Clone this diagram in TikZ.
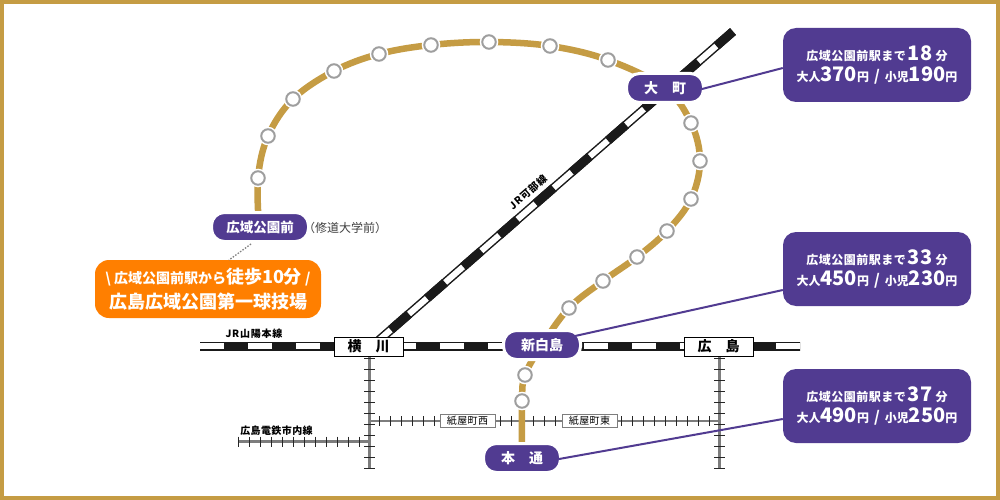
\documentclass[tikz,border=0pt]{standalone}
\usepackage{fontspec}
\setmainfont{Noto Sans CJK JP}
\newfontfamily\jpwide[LetterSpace=8]{Noto Sans CJK JP}
\newfontfamily\jpsp[LetterSpace=4]{Noto Sans CJK JP}
\definecolor{purp}{HTML}{513B91}
\definecolor{gold}{HTML}{C59C44}
\definecolor{orng}{HTML}{FF7F00}
\definecolor{railk}{HTML}{1A1A1A}
\definecolor{tram}{HTML}{7D7D7D}
\newcommand{\fs}[1]{\fontsize{#1}{#1}\selectfont}
\newcommand{\dk}[1]{{\fs{20}\bfseries #1}}
\newcommand{\infotext}[4]{{\bfseries\jpsp\fs{12}#1\,\fs{20}\normalfont\bfseries #2\,\jpsp\fs{12}\bfseries 分}\\[4pt]{\bfseries\fs{12}大人\dk{#3}円\hspace{5pt}{\fs{15}/}\hspace{5pt}小児\dk{#4}円}}
\tikzset{
  x=1pt,y=-1pt,
  railbase/.style={draw=railk,line width=9pt},
  railwhite/.style={draw=white,line width=6pt},
  raildash/.style={draw=railk,line width=9pt,dash pattern=on 24pt off 24pt},
  goldline/.style={draw=gold,line width=6.5pt},
  stationdot/.style={circle,draw=black!38,fill=white,line width=2pt,minimum size=13.5pt,inner sep=0pt,preaction={draw=white,line width=5pt}},
  pill/.style={rectangle,rounded corners=12.9pt,fill=purp,draw=white,line width=3pt,text=white,font=\bfseries\fs{14},inner sep=0pt,minimum height=29pt},
  stationbox/.style={rectangle,draw=black,fill=white,line width=1pt,font=\bfseries\fs{14},inner sep=0pt,minimum width=69pt,minimum height=19pt},
  tramline/.style={draw=tram,line width=2.6pt},
  tick/.style={draw=black!85,line width=1pt},
  tramlabel/.style={rectangle,draw=tram,fill=white,line width=1pt,font=\jpsp\fs{10},inner sep=0pt,minimum width=55pt,minimum height=13pt},
  railtext/.style={font=\jpwide\bfseries\fs{10},inner sep=0pt},
  infobox/.style={rectangle,fill=purp,rounded corners=13pt,text=white,align=center,minimum width=188pt,minimum height=74pt,inner sep=0pt},
  link/.style={draw=purp,line width=2pt},
}
\begin{document}
\begin{tikzpicture}
\useasboundingbox (0,0) rectangle (1000,500);
\fill[white] (0,0) rectangle (1000,500);
\draw[gold,line width=4pt] (2,2) rectangle (998,498);

% named stations (positions)
\foreach \n/\p in {a/{258,178},b/{268,136},c/{293,99},d/{334,71},e/{379,54},f/{431,45},g/{489,42},h/{550,46},i/{608,60},
  j/{691,123},k/{700,161},l/{691,199},m/{667,231},n/{637,257},o/{603,281},p/{569,308},q/{525,375},r/{522,401}}
  {\coordinate (c\n) at (\p);}
\coordinate (cstart) at (259,227);
\coordinate (comachi) at (665,88);
\coordinate (cshin) at (542,345);
\coordinate (chon) at (522,458);
\coordinate (jrw) at (200,346);
\coordinate (jre) at (800,346);
\coordinate (kbt) at (733,31.5);
\coordinate (kbb) at (378,341);
\coordinate (tramwe) at (238.3,441.7);
\coordinate (tramvl) at (369.3,469);
\coordinate (tramvr) at (719.3,469);
\coordinate (tramjl) at (369.3,441.7);
\coordinate (tramhl) at (369.3,421);
\coordinate (tramhr) at (719.3,421);

% tram lines
\draw[tramline] (tramwe) -- (tramjl);
\draw[tramline] (tramhl) -- (tramhr);
\draw[tramline] (369.3,356) -- (tramvl);
\draw[tramline] (719.3,356) -- (tramvr);
\foreach \y in {358.3,369.3,...,470}{
  \draw[tick] (364,\y) -- (374.5,\y);
  \draw[tick] (714,\y) -- (724.5,\y);
}
\foreach \x in {238.3,249.3,...,360}{\draw[tick] (\x,436.5) -- (\x,447);}
\foreach \x in {379,390,...,436,500,511,...,556,621.7,632.7,...,711}{\draw[tick] (\x,416) -- (\x,426);}
\node[tramlabel] (kamiW) at (467.5,420.5) {紙屋町西};
\node[tramlabel] (kamiE) at (589.5,420.5) {紙屋町東};
\node[font=\jpsp\bfseries\fs{10},inner sep=0pt] (dentetsu) at (276.5,430.7) {広島電鉄市内線};

% JR lines
\draw[railbase] (jrw) -- (jre);
\draw[railwhite] (jrw) -- (jre);
\draw[raildash,dash phase=0pt] (224,346) -- (jre);
\draw[railbase] (kbb) -- (kbt);
\draw[railwhite] (kbb) -- (kbt);
\draw[raildash,dash phase=2pt] (kbt) -- (kbb);
\node[railtext] (sanyo) at (254,334) {JR山陽本線};
\node[railtext,rotate=41] (kabe) at (528,192) {JR可部線};

% gold line
\draw[goldline,line cap=butt] plot[smooth,tension=0.6] coordinates {(cstart)(ca)(cb)(cc)(cd)(ce)(cf)(cg)(ch)(ci)(comachi)(cj)(ck)(cl)(cm)(cn)(co)(cp)(cshin)(cq)(cr)(chon)};
\foreach \n in {a,...,r}{\node[stationdot] (s\n) at (c\n) {};}

% stations
\node[stationbox] (yokogawa) at (368.5,346.5) {横　川};
\node[stationbox] (hiroshima) at (718.5,346.5) {広　島};
\node[pill,minimum width=77pt] (omachi) at (665,88) {大　町};
\node[pill,minimum width=97pt] (start) at (260,227) {\fs{13.5}広域公園前};
\node[pill,minimum width=77pt] (shin) at (542,345) {新白島};
\node[pill,minimum width=77pt] (hondori) at (522,458) {本　通};
\node[font=\fs{12},text=black!75,inner sep=0pt] (shudo) at (345,228) {（修道大学前）};

% info boxes
\node[infobox] (box1) at (877,65) {\infotext{広域公園前駅まで}{18}{370}{190}};
\node[infobox] (box2) at (877,269) {\infotext{広域公園前駅まで}{33}{450}{230}};
\node[infobox] (box3) at (877,406) {\infotext{広域公園前駅まで}{37}{490}{250}};
\draw[link] ([xshift=-3pt,yshift=-1pt]omachi.east) -- ([yshift=-3pt]box1.west);
\draw[link] (575,336) -- ([yshift=-21pt]box2.west);
\draw[link] ([xshift=-3pt,yshift=-1pt]hondori.east) -- ([yshift=-13pt]box3.west);

% orange
\node[rectangle,fill=orng,rounded corners=14pt,text=white,align=center,minimum width=226pt,minimum height=58pt,inner sep=0pt,font=\bfseries] (walk) at (208,289)
 {{\fs{14}\textbackslash\ 広域公園前駅から\fs{18}徒歩10分\fs{14} /}\\[6pt]{\fs{18}広島広域公園第一球技場}};
\draw[draw=black!50,line width=1.3pt,dash pattern=on 1.5pt off 1.5pt] (start.south) ++(-9,1) -- (229,260);
\end{tikzpicture}
\end{document}
